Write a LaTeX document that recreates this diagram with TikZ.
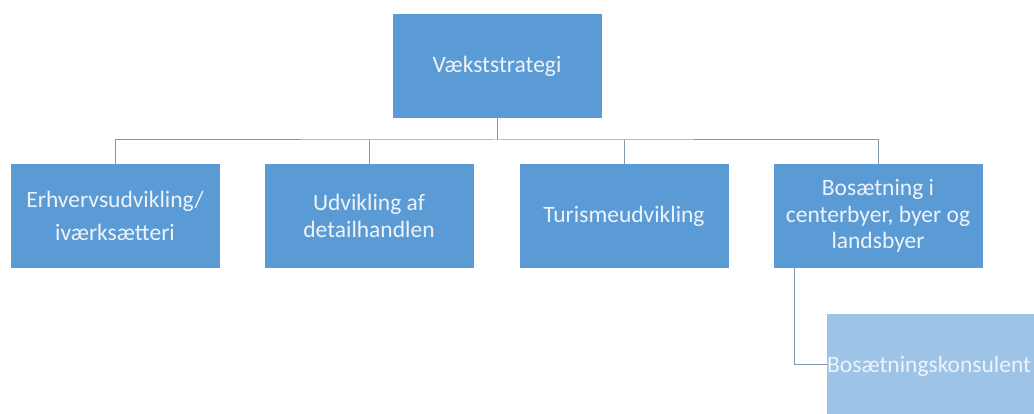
\documentclass[tikz,border=0pt]{standalone}
\usepackage{fontspec}
\setmainfont{Carlito}
\definecolor{boxblue}{HTML}{5B9BD5}
\definecolor{lightblue}{HTML}{9DC3E6}
\definecolor{linegray}{HTML}{8497B0}
\definecolor{txt}{HTML}{EEF3FA}
\begin{document}
\begin{tikzpicture}[x=1pt,y=-1pt,
  box/.style={fill=boxblue, draw=none, minimum width=209pt, minimum height=104pt, inner sep=0pt, text=txt, align=center, font=\fontsize{23.5}{26.5}\selectfont},
  conn/.style={draw=linegray, line width=1pt}]
\useasboundingbox (0,0) rectangle (1034,414);
\node[box] (top) at (497,66) {Vækststrategi};
\node[box] (a) at (115,216) {Erhvervsudvikling/\\[7pt]iværksætteri};
\node[box] (b) at (369,216) {Udvikling af\\detailhandlen};
\node[box] (c) at (624,216) {Turismeudvikling};
\node[box] (d) at (878,216) {Bosætning i\\centerbyer, byer og\\landsbyer};
\node[box, fill=lightblue, minimum width=207pt, minimum height=100pt, anchor=north west] (e) at (827,314) {};
\node[anchor=west, inner sep=0pt, text=txt, font=\fontsize{23.5}{26.5}\selectfont] (et) at ([yshift=-2pt]e.west) {Bosætningskonsulent};
\coordinate (bus) at (497,140);
\draw[conn] (top.south) -- (bus);
\draw[conn] (a.north) |- (bus) -| (d.north);
\draw[conn] (b.north) -- (b.north |- bus);
\draw[conn] (c.north) -- (c.north |- bus);
\draw[conn] (d.south -| 794,0) |- (e.west);
\end{tikzpicture}
\end{document}
